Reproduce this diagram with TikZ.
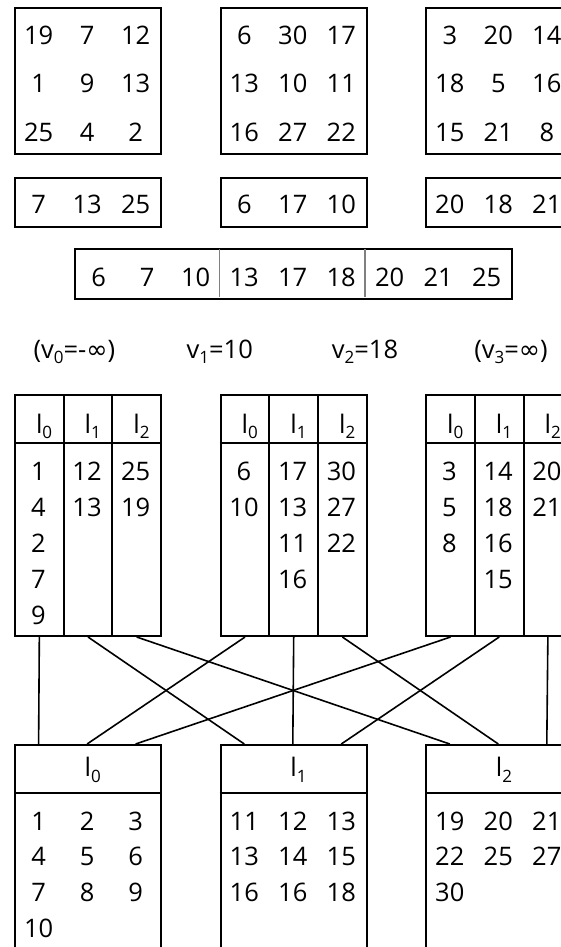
\documentclass[tikz,border=0pt]{standalone}
\usepackage{fontspec}
\setmainfont{Open Sans}
\newfontfamily\symf{DejaVu Sans}
\newcommand\sbs[1]{\raisebox{-0.22em}{\fontsize{17}{17}\selectfont #1}}
\newcommand\infsym{{\symf ∞}}
\begin{document}
\begin{tikzpicture}[x=1pt,y=-1pt,
  frame/.style={draw, line width=2pt, inner sep=0pt, anchor=north west},
  num/.style={font=\fontsize{25.5}{25.5}\selectfont, inner sep=0pt, anchor=base},
  hdr/.style={font=\fontsize{25.5}{25.5}\selectfont, inner sep=0pt, anchor=base west},
  link/.style={line width=1.6pt},
  divider/.style={draw=gray, line width=1.3pt},
]
\useasboundingbox (0,0) rectangle (561,947);
\clip (0,0) rectangle (561,947);

% ---- top 3x3 grids
\foreach \j/\L/\rows in {0/14/{{19,7,12},{1,9,13},{25,4,2}},
                          1/219.7/{{6,30,17},{13,10,11},{16,27,22}},
                          2/425.2/{{3,20,14},{18,5,16},{15,21,8}}} {
  \node[frame, minimum width=146pt, minimum height=146pt] (g\j) at (\L,7.3) {};
  \foreach \row [count=\r from 0] in \rows {
    \foreach \v [count=\c from 0] in \row {
      \node[num] (t\j\r\c) at ({\L+24.6+48.5*\c},{45+48*\r}) {\v};
    }
  }
}

% ---- second row boxes
\foreach \j/\L/\row in {0/14/{7,13,25},1/219.7/{6,17,10},2/425.2/{20,18,21}} {
  \node[frame, minimum width=146pt, minimum height=49pt] (s\j) at (\L,177) {};
  \foreach \v [count=\c from 0] in \row {
    \node[num] (s\j\c) at ({\L+24.6+48.5*\c},213) {\v};
  }
}

% ---- merged row
\node[frame, minimum width=436.6pt, minimum height=50pt] (mg) at (74.4,248) {};
\draw[divider] (219.7,249) -- (219.7,297);
\draw[divider] (365,249) -- (365,297);
\foreach \v [count=\c from 0] in {6,7,10,13,17,18,20,21,25} {
  \node[num] (mv\c) at ({98.6+48.5*\c},286) {\v};
}

% ---- splitter labels
\node[num] (v0) at (74.4,358) {(v\sbs{0}=-\infsym)};
\node[num] (v1) at (219.7,358) {v\sbs{1}=10};
\node[num] (v2) at (365,358) {v\sbs{2}=18};
\node[num] (v3) at (511,358) {(v\sbs{3}=\infsym)};

% ---- middle tables
\foreach \j/\L/\cols in {0/14/{{1,4,2,7,9},{12,13},{25,19}},
                          1/219.7/{{6,10},{17,13,11,16},{30,27,22}},
                          2/425.2/{{3,5,8},{14,18,16,15},{20,21}}} {
  \foreach \col [count=\i from 0] in \cols {
    \node[frame, minimum width=48.67pt, minimum height=241pt] (m\j\i) at ({\L+48.67*\i},394) {};
    \node[hdr] (mh\j\i) at ({\L+24.33+48.67*\i-2.5},433) {l\sbs{\i}};
    \foreach \v [count=\k from 0] in \col {
      \node[num] (md\j\i\k) at ({\L+24.33+48.67*\i},{480+36*\k}) {\v};
    }
  }
  \draw[line width=2pt] (\L,443) -- ({\L+146},443);
}

% ---- bottom tables
\foreach \i/\L/\rows in {0/14/{{1,2,3},{4,5,6},{7,8,9},{10}},
                          1/219.7/{{11,12,13},{13,14,15},{16,16,18}},
                          2/425.2/{{19,20,21},{22,25,27},{30}}} {
  \node[frame, minimum width=146pt, minimum height=300pt] (b\i) at (\L,744) {};
  \draw[line width=2pt] (\L,793) -- ({\L+146},793);
  \node[hdr] (bh\i) at ({\L+70.5},776.7) {l\sbs{\i}};
  \foreach \row [count=\r from 0] in \rows {
    \foreach \v [count=\c from 0] in \row {
      \node[num] (bd\i\r\c) at ({\L+24.6+48.5*\c},{830+35.7*\r}) {\v};
    }
  }
  \foreach \j in {0,1,2} {
    \coordinate (bt\i\j) at ({\L+24.6+48.5*\j},744);
  }
}

% ---- connectors
\foreach \j in {0,1,2} {
  \foreach \i in {0,1,2} {
    \draw[link] (m\j\i.south) -- (bt\i\j);
  }
}
\end{tikzpicture}
\end{document}
